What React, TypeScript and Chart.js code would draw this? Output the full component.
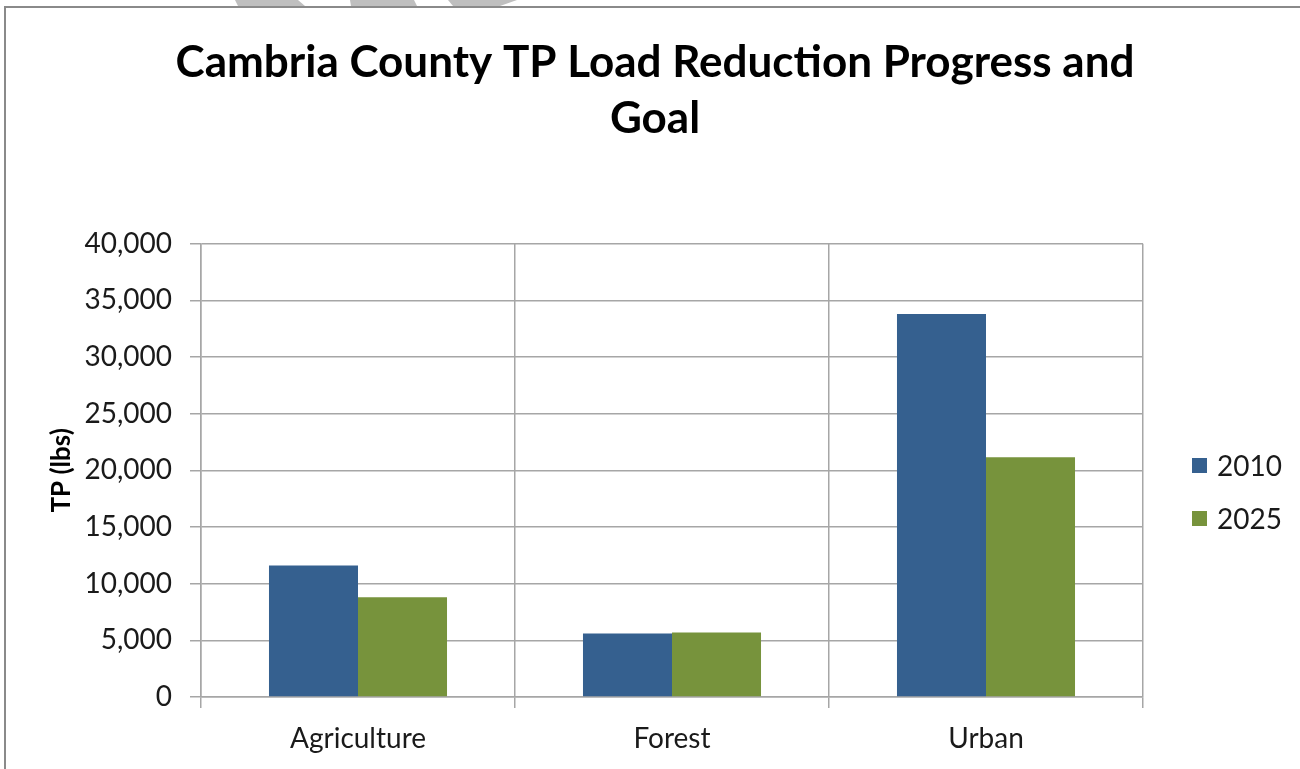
import React, { useEffect, useRef } from "react";
import { Chart, registerables } from "chart.js";

Chart.register(...registerables);

const categories = ["Agriculture", "Forest", "Urban"];
const series2010 = [11600, 5600, 33800];
const series2025 = [8800, 5700, 21150];
const seriesLabels = ["2010", "2025"];
const seriesColors = ["#35608F", "#77933C"];
const titleLines = ["Cambria County TP Load Reduction Progress and", "Goal"];
const yAxisTitle = "TP (lbs)";

const FONT = "Lato, 'Open Sans', sans-serif";

const decorPlugin = {
  id: "decor",
  beforeDraw(chart: any) {
    const ctx = chart.ctx;
    ctx.save();
    ctx.fillStyle = "#ffffff";
    ctx.fillRect(0, 0, chart.width, chart.height);
    // partially visible grey shapes above the frame
    ctx.fillStyle = "#bfbfbf";
    const shapes = [
      [235, 298, 305, 238],
      [350, 414, 417, 351],
      [448, 517, 500, 453],
    ];
    for (const s of shapes) {
      ctx.beginPath();
      ctx.moveTo(s[0], 0);
      ctx.lineTo(s[1], 0);
      ctx.lineTo(s[2], 6);
      ctx.lineTo(s[3], 6);
      ctx.closePath();
      ctx.fill();
    }
    // frame
    ctx.fillStyle = "#8a8a8a";
    ctx.fillRect(4, 6, chart.width - 4, 2);
    ctx.fillRect(4, 6, 2, chart.height - 6);
    ctx.restore();
  },
  afterDraw(chart: any) {
    const ctx = chart.ctx;
    ctx.save();
    ctx.font = `28px ${FONT}`;
    ctx.textBaseline = "middle";
    ctx.textAlign = "left";
    chart.data.datasets.forEach((ds: any, i: number) => {
      const y = 458 + i * 53;
      ctx.fillStyle = ds.backgroundColor;
      ctx.fillRect(1192, y, 15, 15);
      ctx.fillStyle = "#1a1a1a";
      ctx.fillText(ds.label, 1217, y + 8.5);
    });
    ctx.restore();
  },
};

export default function App() {
  const ref = useRef<HTMLCanvasElement | null>(null);

  useEffect(() => {
    if (!ref.current) return;
    const chart = new Chart(ref.current, {
      type: "bar",
      data: {
        labels: categories,
        datasets: [
          {
            label: seriesLabels[0],
            data: series2010,
            backgroundColor: seriesColors[0],
            categoryPercentage: 0.567,
            barPercentage: 1,
          },
          {
            label: seriesLabels[1],
            data: series2025,
            backgroundColor: seriesColors[1],
            categoryPercentage: 0.567,
            barPercentage: 1,
          },
        ],
      },
      options: {
        responsive: false,
        animation: false,
        devicePixelRatio: 1,
        layout: { padding: { left: 40, right: 30, top: 0, bottom: 0 } },
        plugins: {
          legend: { display: false },
          tooltip: { enabled: false },
          title: {
            display: true,
            text: titleLines,
            color: "#000000",
            font: { family: FONT, size: 44, weight: "bold", lineHeight: 1.27 },
            padding: { top: 35, bottom: 97 },
          },
        },
        scales: {
          x: {
            grid: {
              color: "#a6a6a6",
              lineWidth: 1.5,
              tickLength: 11,
              offset: true,
            },
            border: { color: "#a6a6a6", width: 1.5 },
            ticks: {
              color: "#1a1a1a",
              font: { family: FONT, size: 28 },
              padding: 14,
              maxRotation: 0,
            },
            afterFit: (s: any) => {
              s.height = 72;
            },
          },
          y: {
            min: 0,
            max: 40000,
            grid: { color: "#a6a6a6", lineWidth: 1.5, tickLength: 11 },
            border: { color: "#a6a6a6", width: 1.5 },
            ticks: {
              stepSize: 5000,
              color: "#1a1a1a",
              font: { family: FONT, size: 28 },
              padding: 18,
              callback: (v: any) => Number(v).toLocaleString("en-US"),
            },
            title: {
              display: true,
              text: yAxisTitle,
              color: "#000000",
              font: { family: FONT, size: 26, weight: "bold", lineHeight: 1.2 },
              padding: { top: 6, bottom: 0 },
            },
            afterFit: (s: any) => {
              s.width = 161;
            },
          },
          legendSpace: {
            type: "linear",
            axis: "y",
            position: "right",
            display: true,
            grid: { display: false, drawTicks: false },
            border: { display: false },
            ticks: { display: false },
            afterFit: (s: any) => {
              s.width = 127;
            },
          },
        },
      },
      plugins: [decorPlugin],
    });
    return () => chart.destroy();
  }, []);

  return (
    <div style={{ position: "fixed", left: 0, top: 0, width: 1300, height: 769 }}>
      <canvas ref={ref} width={1300} height={769} style={{ display: "block" }} />
    </div>
  );
}
